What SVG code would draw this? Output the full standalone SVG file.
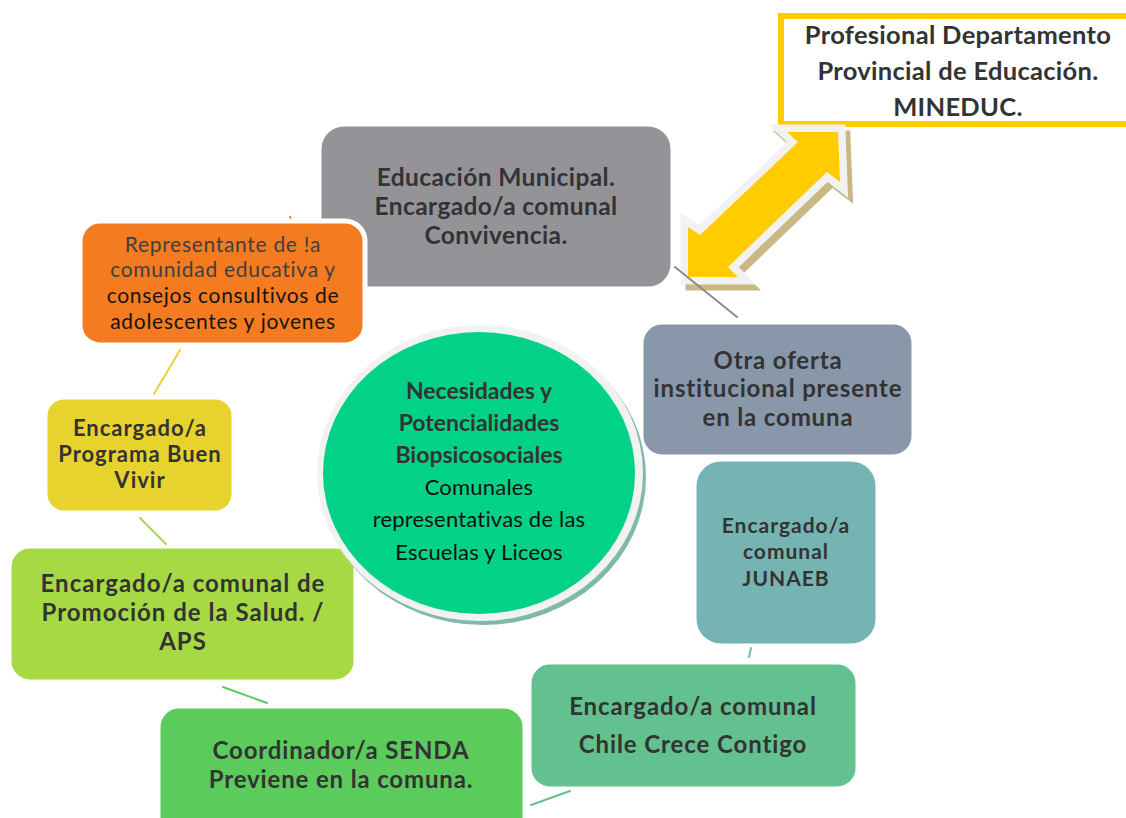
<svg xmlns="http://www.w3.org/2000/svg" width="1126" height="818" viewBox="0 0 1126 818">
<style>
  text { font-family: Lato, "Open Sans", "Liberation Sans", sans-serif; text-anchor: middle; }
  .b { font-weight: 700; fill: #333333; }
  .r { font-weight: 400; }
  .box { stroke: #ffffff; stroke-width: 3; }
  .con { fill: none; stroke-width: 2; stroke-linecap: round; }
</style>
<rect width="1126" height="818" fill="#ffffff"/>

<g id="mineduc">
  <rect x="781" y="16" width="400" height="108" fill="#ffffff" stroke="#FFCC00" stroke-width="6"/>
  <text class="b" x="958" y="44" font-size="25.5" fill="#111" letter-spacing="0.3">Profesional Departamento</text>
  <text class="b" x="958" y="80" font-size="25.5" fill="#111" letter-spacing="0.3">Provincial de Educación.</text>
  <text class="b" x="958" y="116" font-size="25.5" fill="#111" letter-spacing="0.3">MINEDUC.</text>
</g>

<g id="arrow">
  <polygon transform="translate(5,6)" points="838,132 787,132 798,142 700,235 688,227 688,277 738,277 728,267 827,172 840,182" fill="#C9B784" stroke="#C9B784" stroke-width="15" stroke-linejoin="miter"/>
  <polygon points="838,132 787,132 798,142 700,235 688,227 688,277 738,277 728,267 827,172 840,182" fill="#F2F2F2" stroke="#F2F2F2" stroke-width="15" stroke-linejoin="miter"/>
  <polygon points="838,132 787,132 798,142 700,235 688,227 688,277 738,277 728,267 827,172 840,182" fill="#FFCC00"/>
</g>

<g id="connectors">
  <line class="con" x1="290" y1="217" x2="293" y2="223" stroke="#F47B20"/>
  <line class="con" x1="180" y1="350" x2="154" y2="394" stroke="#E8D32E"/>
  <line class="con" x1="140" y1="518" x2="166" y2="544" stroke="#A6D944"/>
  <line class="con" x1="223" y1="687" x2="267" y2="703" stroke="#5BCB5B"/>
  <line class="con" x1="531" y1="805" x2="570" y2="791" stroke="#62C18E"/>
  <line class="con" x1="749" y1="657" x2="751" y2="648" stroke="#76B4B3"/>
  <line class="con" x1="675" y1="267" x2="737" y2="317" stroke="#8C8C8C"/>
</g>

<g id="educacion">
  <rect class="box" x="320" y="125" width="352" height="163" rx="24" fill="#939398"/>
  <text class="b" x="496" y="186" font-size="24.5" letter-spacing="0.4">Educación Municipal.</text>
  <text class="b" x="496" y="215" font-size="24.5" letter-spacing="0.4">Encargado/a comunal</text>
  <text class="b" x="496" y="244" font-size="24.5" letter-spacing="0.4">Convivencia.</text>
</g>

<g id="representante">
  <rect x="80" y="221" width="285" height="124" rx="20" fill="#F47B20" stroke="#ffffff" stroke-width="5"/>
  <text class="r" x="223" y="252" font-size="21" fill="#404040" letter-spacing="0.7">Representante de !a</text>
  <text class="r" x="223" y="277" font-size="21" fill="#404040" letter-spacing="0.7">comunidad educativa y</text>
  <text class="r" x="223" y="303" font-size="21" fill="#151515" letter-spacing="0.7">consejos consultivos de</text>
  <text class="r" x="223" y="329" font-size="21" fill="#151515" letter-spacing="0.7">adolescentes y jovenes</text>
</g>

<g id="buenvivir">
  <rect class="box" x="46" y="398" width="187" height="114" rx="18" fill="#E8D32E"/>
  <text class="b" x="140" y="436" font-size="22" letter-spacing="1">Encargado/a</text>
  <text class="b" x="140" y="462" font-size="22" letter-spacing="1">Programa Buen</text>
  <text class="b" x="140" y="488" font-size="22" letter-spacing="1">Vivir</text>
</g>

<g id="salud">
  <rect class="box" x="10" y="547" width="345" height="134" rx="20" fill="#A6D944"/>
  <text class="b" x="183" y="592" font-size="24" letter-spacing="1">Encargado/a comunal de</text>
  <text class="b" x="183" y="621" font-size="24" letter-spacing="1">Promoción de la Salud. /</text>
  <text class="b" x="183" y="650" font-size="24" letter-spacing="1">APS</text>
</g>

<g id="senda">
  <rect class="box" x="159" y="707" width="365" height="130" rx="20" fill="#5BCB5B"/>
  <text class="b" x="341" y="759" font-size="24" letter-spacing="0.85">Coordinador/a SENDA</text>
  <text class="b" x="341" y="788" font-size="24" letter-spacing="0.85">Previene en la comuna.</text>
</g>

<g id="chilecrece">
  <rect class="box" x="530" y="663" width="327" height="125" rx="20" fill="#62C18E"/>
  <text class="b" x="693" y="715" font-size="24" letter-spacing="0.9">Encargado/a comunal</text>
  <text class="b" x="693" y="753" font-size="24" letter-spacing="0.9">Chile Crece Contigo</text>
</g>

<g id="junaeb">
  <rect class="box" x="695" y="460" width="182" height="185" rx="26" fill="#76B4B3"/>
  <text class="b" x="786" y="533" font-size="21" letter-spacing="1">Encargado/a</text>
  <text class="b" x="786" y="559" font-size="21" letter-spacing="1">comunal</text>
  <text class="b" x="786" y="586" font-size="21" letter-spacing="1">JUNAEB</text>
</g>

<g id="otraoferta">
  <rect class="box" x="642" y="323" width="271" height="133" rx="20" fill="#8897AA"/>
  <text class="b" x="778" y="369" font-size="24" letter-spacing="0.85">Otra oferta</text>
  <text class="b" x="778" y="397" font-size="24" letter-spacing="0.85">institucional presente</text>
  <text class="b" x="778" y="426" font-size="24" letter-spacing="0.85">en la comuna</text>
</g>

<g id="necesidades">
  <ellipse cx="483" cy="477" rx="163" ry="148" fill="#7FB9AA"/>
  <ellipse cx="480" cy="473" rx="163" ry="148" fill="#F2F2F2"/>
  <ellipse cx="479" cy="473" rx="156" ry="141" fill="#02D188"/>
  <text class="b" x="479" y="399" font-size="23" fill="#111">Necesidades y</text>
  <text class="b" x="479" y="431" font-size="23" fill="#111">Potencialidades</text>
  <text class="b" x="479" y="463" font-size="23" fill="#111">Biopsicosociales</text>
  <text class="r" x="479" y="495" font-size="22" fill="#111" letter-spacing="0.2">Comunales</text>
  <text class="r" x="479" y="527" font-size="22" fill="#111" letter-spacing="0.2">representativas de las</text>
  <text class="r" x="479" y="560" font-size="22" fill="#111" letter-spacing="0.2">Escuelas y Liceos</text>
</g>
</svg>
